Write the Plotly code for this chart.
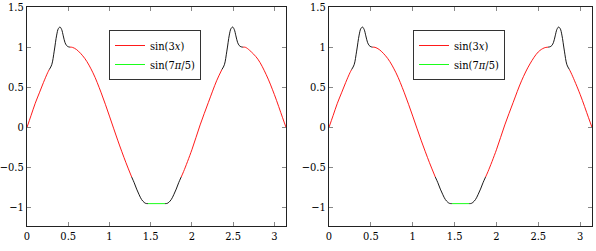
import plotly.graph_objects as go

# ---------------- data ----------------
# left panel
red_a_x = [0.0, 0.05, 0.10, 0.15, 0.20, 0.25, 0.27]
red_a_y = [0.0, 0.15, 0.30, 0.43, 0.56, 0.68, 0.72]

bump1_x = [0.27, 0.30, 0.33, 0.36, 0.38, 0.40, 0.42, 0.44, 0.46, 0.48, 0.50, 0.52]
bump1_y = [0.72, 0.78, 0.95, 1.15, 1.23, 1.25, 1.22, 1.14, 1.06, 1.02, 1.005, 1.0]

red_b_x = [0.52, 0.55, 0.60, 0.70, 0.80, 0.90, 1.00, 1.10, 1.20, 1.27]
red_b_y = [1.0, 0.997, 0.97, 0.86, 0.68, 0.43, 0.14, -0.16, -0.44, -0.62]

fall_x = [1.27, 1.30, 1.33, 1.36, 1.39, 1.42, 1.44, 1.466]
fall_y = [-0.62, -0.69, -0.77, -0.84, -0.90, -0.935, -0.948, -0.951]

green_x = [1.466, 1.676]
green_y = [-0.951, -0.951]

rise_x = [1.676, 1.70, 1.72, 1.75, 1.78, 1.81, 1.84, 1.87]
rise_y = [-0.951, -0.948, -0.935, -0.90, -0.84, -0.77, -0.69, -0.62]

red_c_left_x = [1.87, 1.90, 2.00, 2.10, 2.20, 2.30, 2.364]
red_c_left_y = [-0.62, -0.55, -0.28, 0.03, 0.31, 0.58, 0.72]

bump2_left_x = [2.364, 2.394, 2.424, 2.454, 2.474, 2.494, 2.514, 2.534, 2.554, 2.574, 2.594, 2.618]
bump2_left_y = [0.72, 0.78, 0.95, 1.15, 1.23, 1.25, 1.22, 1.14, 1.06, 1.02, 1.005, 1.0]

red_d_left_x = [2.618, 2.65, 2.70, 2.80, 2.90, 3.00, 3.10, 3.1416]
red_d_left_y = [1.0, 0.997, 0.96, 0.85, 0.66, 0.41, 0.12, 0.0]

# right panel (second half differs)
red_c_right_x = [1.87, 1.90, 2.00, 2.10, 2.20, 2.30, 2.40, 2.50, 2.57, 2.618]
red_c_right_y = [-0.62, -0.55, -0.28, 0.03, 0.31, 0.58, 0.79, 0.94, 0.99, 1.0]

bump2_right_x = [2.618, 2.642, 2.662, 2.682, 2.702, 2.722, 2.742, 2.762, 2.782, 2.812, 2.842, 2.872]
bump2_right_y = [1.0, 1.005, 1.02, 1.06, 1.14, 1.22, 1.25, 1.23, 1.15, 0.95, 0.78, 0.72]

red_d_right_x = [2.872, 2.90, 3.00, 3.10, 3.1416]
red_d_right_y = [0.72, 0.66, 0.41, 0.12, 0.0]

x_ticks = [0, 0.5, 1, 1.5, 2, 2.5, 3]
x_tick_labels = ["0", "0.5", "1", "1.5", "2", "2.5", "3"]
y_ticks = [-1, -0.5, 0, 0.5, 1, 1.5]
y_tick_labels = ["\u22121", "\u22120.5", "0", "0.5", "1", "1.5"]

legend_names = ["sin(3<i>x</i>)", "sin(7<i>\u03c0</i>/5)"]

RED = "#ff0000"
GREEN = "#00ff00"
BLACK = "#000000"
FONT = "DejaVu Serif Condensed, DejaVu Serif"


def join(*segs):
    xs, ys = [], []
    for i in range(0, len(segs), 2):
        if xs:
            xs.append(None)
            ys.append(None)
        xs += segs[i]
        ys += segs[i + 1]
    return xs, ys


fig = go.Figure()

panels = [
    dict(xa="x", ya="y", legend="legend",
         red=join(red_a_x, red_a_y, red_b_x, red_b_y, red_c_left_x, red_c_left_y, red_d_left_x, red_d_left_y),
         black=join(bump1_x, bump1_y, fall_x, fall_y, rise_x, rise_y, bump2_left_x, bump2_left_y)),
    dict(xa="x2", ya="y2", legend="legend2",
         red=join(red_a_x, red_a_y, red_b_x, red_b_y, red_c_right_x, red_c_right_y, red_d_right_x, red_d_right_y),
         black=join(bump1_x, bump1_y, fall_x, fall_y, rise_x, rise_y, bump2_right_x, bump2_right_y)),
]

for p in panels:
    fig.add_trace(go.Scatter(x=p["red"][0], y=p["red"][1], mode="lines",
                             line=dict(color=RED, width=0.9, shape="spline"),
                             name=legend_names[0], xaxis=p["xa"], yaxis=p["ya"],
                             legend=p["legend"], showlegend=True))
    fig.add_trace(go.Scatter(x=green_x, y=green_y, mode="lines",
                             line=dict(color=GREEN, width=0.9),
                             name=legend_names[1], xaxis=p["xa"], yaxis=p["ya"],
                             legend=p["legend"], showlegend=True))
    fig.add_trace(go.Scatter(x=p["black"][0], y=p["black"][1], mode="lines",
                             line=dict(color=BLACK, width=0.9, shape="spline"),
                             xaxis=p["xa"], yaxis=p["ya"], showlegend=False))

W, H = 596, 251
y_dom = [1 - 226 / H, 1 - 7 / H]

axis_common = dict(showgrid=False, zeroline=False, showline=True, linecolor="#222",
                   linewidth=1, mirror="ticks", ticks="inside", ticklen=4,
                   tickcolor="#888", tickwidth=1, ticklabeloverflow="allow",
                   automargin=False,
                   tickfont=dict(family=FONT, size=11, color="#000"))

fig.update_layout(
    width=W, height=H, margin=dict(l=0, r=0, t=0, b=0, pad=0, autoexpand=False),
    paper_bgcolor="white", plot_bgcolor="white",
    font=dict(family=FONT, size=11, color="#000"),
    xaxis=dict(domain=[27 / W, 286 / W], range=[0, 3.1416], tickvals=x_ticks,
               ticktext=x_tick_labels, anchor="y", **axis_common),
    yaxis=dict(domain=y_dom, range=[-1.23, 1.5], tickvals=y_ticks,
               ticktext=y_tick_labels, anchor="x", **axis_common),
    xaxis2=dict(domain=[329 / W, 592 / W], range=[0, 3.1416], tickvals=x_ticks,
                ticktext=x_tick_labels, anchor="y2", **axis_common),
    yaxis2=dict(domain=y_dom, range=[-1.23, 1.5], tickvals=y_ticks,
                ticktext=y_tick_labels, anchor="x2", **axis_common),
    legend=dict(x=109 / W, y=1 - 30 / H, xanchor="left", yanchor="top",
                bordercolor="#333", borderwidth=1, bgcolor="white",
                font=dict(family=FONT, size=11), tracegroupgap=0,
                itemwidth=30),
    legend2=dict(x=413 / W, y=1 - 30 / H, xanchor="left", yanchor="top",
                 bordercolor="#333", borderwidth=1, bgcolor="white",
                 font=dict(family=FONT, size=11), tracegroupgap=0,
                 itemwidth=30),
)

fig.write_html("out.html")
